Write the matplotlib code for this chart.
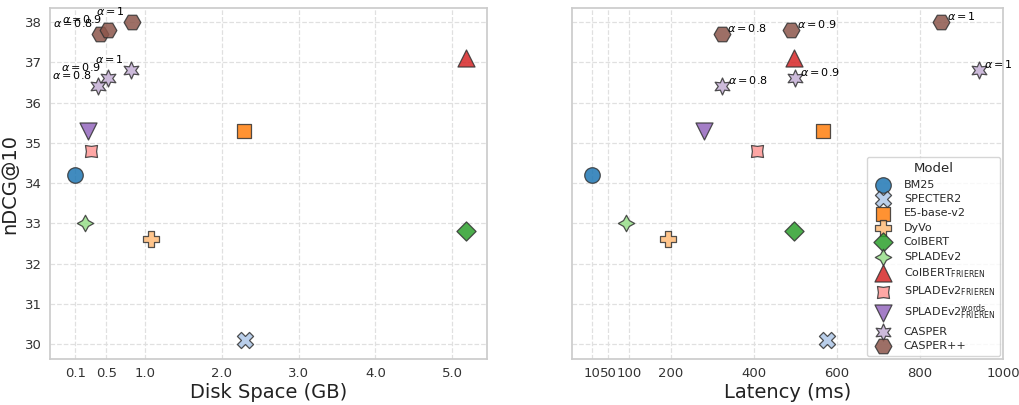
import matplotlib
matplotlib.use("Agg")
import matplotlib.pyplot as plt
import seaborn as sns
import numpy as np
from matplotlib.path import Path
from matplotlib.markers import MarkerStyle
from matplotlib.transforms import Affine2D

sns.set_theme(style="whitegrid")
plt.rcParams['font.family'] = ['DejaVu Sans']

models = ["BM25", "SPECTER2", "E5-base-v2", "DyVo", "ColBERT", "SPLADEv2",
          r"ColBERT$_{\mathrm{FRIEREN}}$", r"SPLADEv2$_{\mathrm{FRIEREN}}$",
          r"SPLADEv2$_{\mathrm{FRIEREN}}^{\mathrm{words}}$", "CASPER", "CASPER++"]
disk = [[0.1], [2.3], [2.29], [1.08], [5.18], [0.22], [5.18], [0.30], [0.27],
        [0.40, 0.52, 0.82], [0.42, 0.53, 0.83]]
latency = [[12], [576], [566], [193], [496], [94], [496], [407], [280],
           [325, 499, 942], [323, 491, 851]]
ndcg = [[34.2], [30.1], [35.3], [32.6], [32.8], [33.0], [37.1], [34.8], [35.3],
        [36.4, 36.6, 36.8], [37.7, 37.8, 38.0]]
alphas = ["0.8", "0.9", "1"]

disk_ticks = [0.1, 0.5, 1.0, 2.0, 3.0, 4.0, 5.0]
disk_ticklabels = ["0.1", "0.5", "1.0", "2.0", "3.0", "4.0", "5.0"]
lat_ticks = [10, 50, 100, 200, 400, 600, 800, 1000]
lat_ticklabels = ["10", "50", "100", "200", "400", "600", "800", "1000"]

cmap = plt.get_cmap("tab20")
colors = [cmap(i) for i in range(11)]

star4 = Path.unit_regular_star(4, 0.5)
sq_star = Path.unit_regular_star(4, 0.6)
sq_star = sq_star.transformed(Affine2D().rotate_deg(45))
markers = ["o", "X", "s", "P", "D", star4, "^", sq_star, "v", (6, 1, 0), "H"]
sizes = [125, 135, 95, 140, 95, 140, 150, 75, 150, 150, 145]

fig = plt.figure(figsize=(10.19, 4.05), dpi=100)
ax1 = fig.add_axes([50/1019, 1-359/405, 437/1019, 351/405])
ax2 = fig.add_axes([572/1019, 1-359/405, 431/1019, 351/405], sharey=ax1)

for i, m in enumerate(models):
    for ax, xs in ((ax1, disk[i]), (ax2, latency[i])):
        ax.scatter(xs, ndcg[i], s=sizes[i], marker=markers[i], color=colors[i],
                   alpha=0.85, edgecolor="#333333", linewidth=0.9, zorder=3,
                   label=m if ax is ax2 else None)

for idx in (9, 10):
    for j, a in enumerate(alphas):
        ax1.annotate(r"$\alpha = " + a + "$", (disk[idx][j], ndcg[idx][j]),
                     xytext=(-5, 4), textcoords="offset points",
                     ha="right", va="bottom", fontsize=8, color="black")
        ax2.annotate(r"$\alpha = " + a + "$", (latency[idx][j], ndcg[idx][j]),
                     xytext=(4, 0), textcoords="offset points",
                     ha="left", va="bottom", fontsize=8, color="black")

ax1.set_xlim(-0.23, 5.45)
ax1.set_ylim(29.63, 38.35)
ax1.set_xticks(disk_ticks)
ax1.set_xticklabels(disk_ticklabels)
ax1.set_yticks(range(30, 39))
ax2.set_xlim(-37, 1000)
ax2.set_xticks(lat_ticks)
ax2.set_xticklabels(lat_ticklabels)
plt.setp(ax2.get_yticklabels(), visible=False)

for ax in (ax1, ax2):
    ax.grid(True, linestyle="--", color="#e0e0e0", linewidth=0.9)
    ax.tick_params(labelsize=9.5, colors="#333333", length=0, pad=6)
    for s in ax.spines.values():
        s.set_color("#cccccc")

ax1.set_xlabel("Disk Space (GB)", fontsize=14, color="#222222", labelpad=2)
ax2.set_xlabel("Latency (ms)", fontsize=14, color="#222222", labelpad=2)
ax1.set_ylabel("nDCG@10", fontsize=14, color="#222222")

leg = ax2.legend(title="Model", loc="lower right", fontsize=8, title_fontsize=9.5,
                 labelspacing=0.4, handletextpad=0.9, borderpad=0.45,
                 borderaxespad=0.25, frameon=True)
leg.get_frame().set_edgecolor("#cccccc")

fig.savefig("out.png", dpi=100)
